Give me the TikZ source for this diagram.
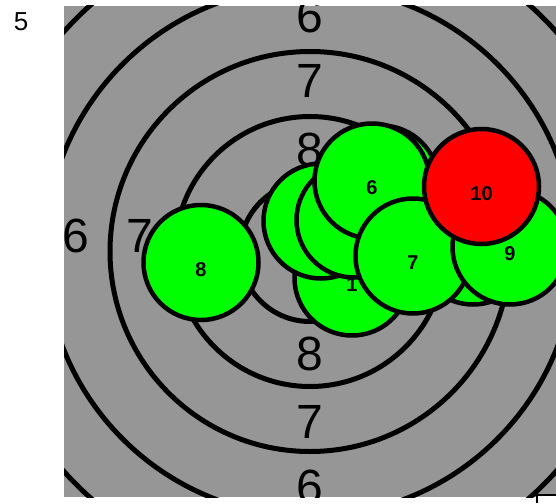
\documentclass[tikz,border=0pt]{standalone}
\usepackage{fontspec}
\setmainfont{Liberation Sans}
\definecolor{tgtgray}{HTML}{969696}
\definecolor{hitgreen}{HTML}{00FF00}
\definecolor{hitred}{HTML}{FF0000}
\tikzset{
  ring/.style     ={draw=black,line width=5pt},
  ringnum/.style  ={font=\fontsize{48}{48}\selectfont,inner sep=0pt},
  shot/.style     ={circle,draw=black,fill=hitgreen,line width=4.5pt,minimum size=115pt,inner sep=0pt},
  lastshot/.style ={shot,fill=hitred},
  shotnum/.style  ={font=\fontsize{20}{20}\selectfont\bfseries,inner sep=0pt},
  seriesnum/.style={font=\fontsize{26}{26}\selectfont,inner sep=0pt},
}

\begin{document}
\begin{tikzpicture}[x=1pt,y=-1pt]
  \useasboundingbox (0,0) rectangle (556,503);
  \coordinate (ctr) at (310,251.5);

  % target face
  \begin{scope}
    \clip (64,6) rectangle (556,497);
    \fill[tgtgray] (64,6) rectangle (556,497);
    \foreach \r in {70,135,200,265,330}
      \draw[ring] (ctr) circle[radius=\r pt];
    \node[ringnum] (t6) at (310,16)  {6};
    \node[ringnum] (t7) at (310,81)  {7};
    \node[ringnum] (t8) at (310,150) {8};
    \node[ringnum] (b8) at (310,354) {8};
    \node[ringnum] (b7) at (310,422) {7};
    \node[ringnum] (b6) at (310,487) {6};
    \node[ringnum] (l6) at (76,236)  {6};
    \node[ringnum] (l7) at (140,236) {7};
  \end{scope}

  \node[seriesnum] (series) at (21,21.5) {5};

  % shots, in order
  \node[shot] (s1) at (352,278) {};
  \node[shotnum] (n1) at ([yshift=-7pt]s1.center) {1};
  \node[shot] (s2) at (321,221) {};
  \node[shot] (s3) at (354,220) {};
  \node[shot] (s4) at (381,183) {};
  \node[shot] (s5) at (473,247) {};
  \node[shot] (s6) at (372,181) {};
  \node[shotnum] (n6) at ([yshift=-7pt]s6.center) {6};
  \node[shot] (s7) at (413,256) {};
  \node[shotnum] (n7) at ([yshift=-7pt]s7.center) {7};
  \node[shot] (s8) at (201,262.5) {};
  \node[shotnum] (n8) at ([yshift=-7pt]s8.center) {8};
  \node[shot] (s9) at (510,247) {};
  \node[shotnum] (n9) at ([yshift=-7pt]s9.center) {9};
  \node[lastshot] (s10) at (481.5,186.5) {};
  \node[shotnum] (n10) at ([yshift=-7pt]s10.center) {10};

  % next panel corner
  \fill[white] (537,495) rectangle (556,503);
  \draw[line width=1.5pt] (537,503) |- (556,495);
\end{tikzpicture}
\end{document}
